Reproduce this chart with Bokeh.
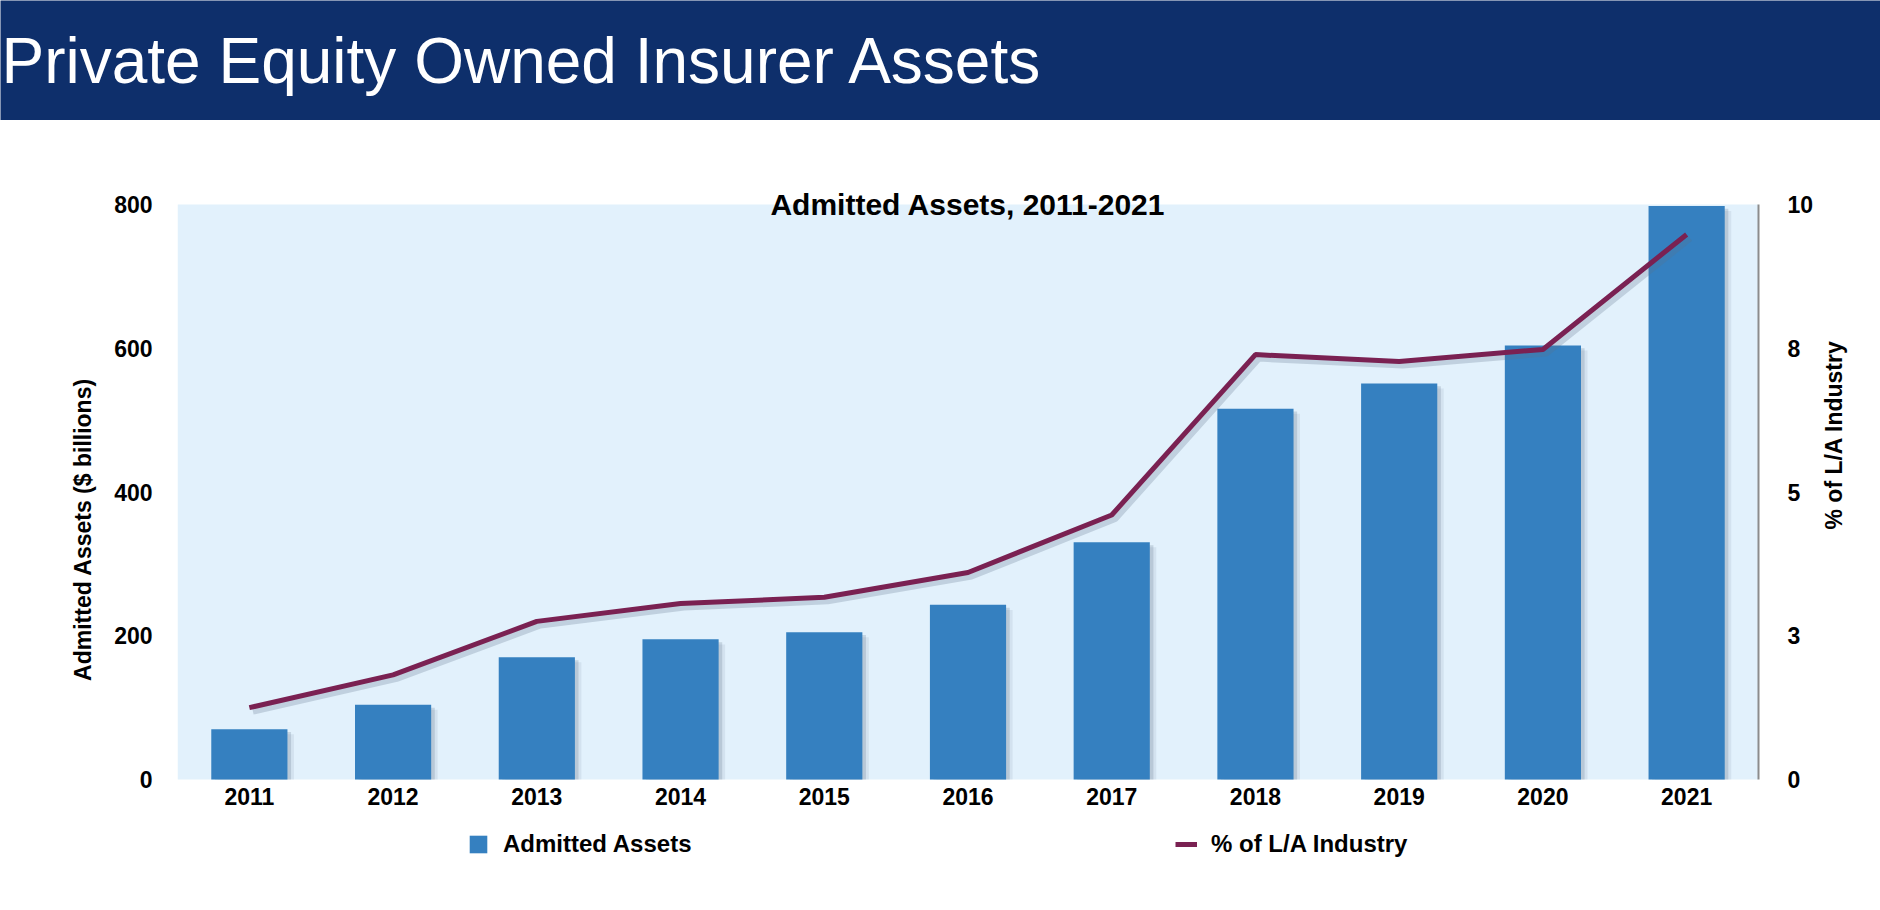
import math
from bokeh.plotting import figure
from bokeh.models import (ColumnDataSource, FactorRange, Range1d, LinearAxis, FixedTicker,
                          Legend, LegendItem, Label, BoxAnnotation)
from bokeh.transform import dodge
from bokeh.embed import file_html
from bokeh.resources import INLINE

# ---- data ----
years = ["2011", "2012", "2013", "2014", "2015", "2016", "2017", "2018", "2019", "2020", "2021"]
assets = [70, 104, 170, 195, 205, 243, 330, 516, 551, 604, 798]          # $ billions
pct_industry = [1.25, 1.82, 2.75, 3.06, 3.17, 3.6, 4.6, 7.39, 7.27, 7.48, 9.48]  # % of L/A industry
left_ticks = [0, 200, 400, 600, 800]
right_ticks = [0, 2.5, 5, 7.5, 10]
right_tick_labels = ["0", "3", "5", "8", "10"]

TITLE = "Private Equity Owned Insurer Assets"
SUBTITLE = "Admitted Assets, 2011-2021"

NAVY = "#0E2F6B"
BAR = "#3580C0"
LINE = "#7A2152"
BG = "#E2F1FC"
FONT = "Liberation Sans"

ASSET_MAX = 800
PCT_MAX = 10
# the frame reaches a little above 800 (room for the centred subtitle) and below 0
# (room for the category labels and the legend); the light-blue area is 0..800
Y_TOP = 822.3
Y_BOTTOM = -126.6
RATIO = PCT_MAX / ASSET_MAX

# ---- header band (own figure) ----
head = figure(width=1880, height=120, x_range=(0, 1), y_range=(0, 1),
              x_axis_type=None, y_axis_type=None, toolbar_location=None,
              output_backend="svg", min_border=0,
              background_fill_color=NAVY, border_fill_color=NAVY,
              outline_line_color=None)
head.xgrid.visible = False
head.ygrid.visible = False
head.add_layout(Label(x=1, y=60, x_units="screen", y_units="screen", text=TITLE,
                      text_color="white", text_font=FONT, text_font_size="64px",
                      text_baseline="alphabetic", text_align="left"))

# ---- chart ----
src = ColumnDataSource(dict(year=years, assets=assets, pct=pct_industry))

p = figure(x_range=FactorRange(factors=years, range_padding=0),
           y_range=Range1d(Y_BOTTOM, Y_TOP),
           width=1880, height=790, toolbar_location=None, output_backend="svg",
           min_border_left=177, min_border_right=122, min_border_top=68, min_border_bottom=40,
           background_fill_color="white", border_fill_color="white", outline_line_color=None)
p.extra_y_ranges = {"pct": Range1d(Y_BOTTOM * RATIO, Y_TOP * RATIO)}
p.xgrid.visible = False
p.ygrid.visible = False

# light-blue plotting area (0 .. 800)
p.add_layout(BoxAnnotation(bottom=0, top=ASSET_MAX, fill_color=BG, fill_alpha=1.0,
                           line_color=None, level="underlay"))

# bar shadows
p.vbar(x=dodge("year", 0.045, range=p.x_range), top=dodge("assets", -7, range=p.y_range),
       bottom=0, width=0.53, source=src, fill_color="#6a7f96", fill_alpha=0.12, line_color=None)
p.vbar(x=dodge("year", 0.025, range=p.x_range), top=dodge("assets", -4, range=p.y_range),
       bottom=0, width=0.53, source=src, fill_color="#5a6f86", fill_alpha=0.22, line_color=None)
bars = p.vbar(x="year", top="assets", bottom=0, width=0.53, source=src,
              fill_color=BAR, line_color=None)

# line shadow
p.line(x=dodge("year", 0.025, range=p.x_range), y=dodge("pct", -0.07, range=p.extra_y_ranges["pct"]),
       source=src, y_range_name="pct", line_color="#5a6f86", line_alpha=0.25, line_width=6)
line = p.line(x="year", y="pct", source=src, y_range_name="pct",
              line_color=LINE, line_width=5)

# left axis
yax = p.yaxis[0]
yax.ticker = FixedTicker(ticks=left_ticks)
yax.bounds = (0, ASSET_MAX)
yax.axis_label = "Admitted Assets ($ billions)"
yax.axis_line_color = None
yax.major_tick_line_color = None
yax.minor_tick_line_color = None
yax.major_tick_out = 0
yax.major_label_standoff = 25
yax.axis_label_standoff = 15
yax.major_label_text_font = FONT
yax.major_label_text_font_style = "bold"
yax.major_label_text_font_size = "23px"
yax.major_label_text_color = "black"
yax.axis_label_text_font = FONT
yax.axis_label_text_font_style = "bold"
yax.axis_label_text_font_size = "23px"
yax.axis_label_text_color = "black"

# right axis
rax = LinearAxis(y_range_name="pct", ticker=FixedTicker(ticks=right_ticks), bounds=(0, PCT_MAX),
                 major_label_overrides=dict(zip(right_ticks, right_tick_labels)))
rax.axis_label = "% of L/A Industry"
rax.axis_label_orientation = math.pi / 2
rax.axis_label_text_align = "center"
rax.axis_line_color = "#8C8C8C"
rax.axis_line_width = 2
rax.major_tick_line_color = None
rax.minor_tick_line_color = None
rax.major_tick_out = 0
rax.major_label_standoff = 29
rax.axis_label_standoff = 18
rax.major_label_text_font = FONT
rax.major_label_text_font_style = "bold"
rax.major_label_text_font_size = "23px"
rax.major_label_text_color = "black"
rax.axis_label_text_font = FONT
rax.axis_label_text_font_style = "bold"
rax.axis_label_text_font_size = "23px"
rax.axis_label_text_color = "black"
p.add_layout(rax, "right")

# bottom axis, drawn at the zero line
xax = p.xaxis[0]
xax.fixed_location = 0
xax.axis_line_color = None
xax.major_tick_line_color = None
xax.minor_tick_line_color = None
xax.major_tick_out = 0
xax.major_label_standoff = 8
xax.major_label_text_font = FONT
xax.major_label_text_font_style = "bold"
xax.major_label_text_font_size = "23px"
xax.major_label_text_color = "black"

# subtitle, centred over the category axis at the top of the plotting area
p.add_layout(Label(x=len(years) / 2, y=ASSET_MAX, text=SUBTITLE, text_align="center",
                   text_baseline="middle", text_font=FONT, text_font_style="bold",
                   text_font_size="30px", text_color="black"))

# legend under the category labels (inside the frame, screen offset from its bottom-left)
legend = Legend(items=[LegendItem(label="Admitted Assets", renderers=[bars]),
                       LegendItem(label="% of L/A Industry", renderers=[line])],
                orientation="horizontal", location=(290, 12), margin=0, padding=0,
                spacing=0, label_width=672, glyph_width=22, glyph_height=22,
                label_standoff=14,
                label_text_font=FONT, label_text_font_style="bold",
                label_text_font_size="24px", label_text_color="black",
                border_line_color=None, background_fill_alpha=0)
p.add_layout(legend)

open("out.html", "w").write(file_html([head, p], INLINE))
